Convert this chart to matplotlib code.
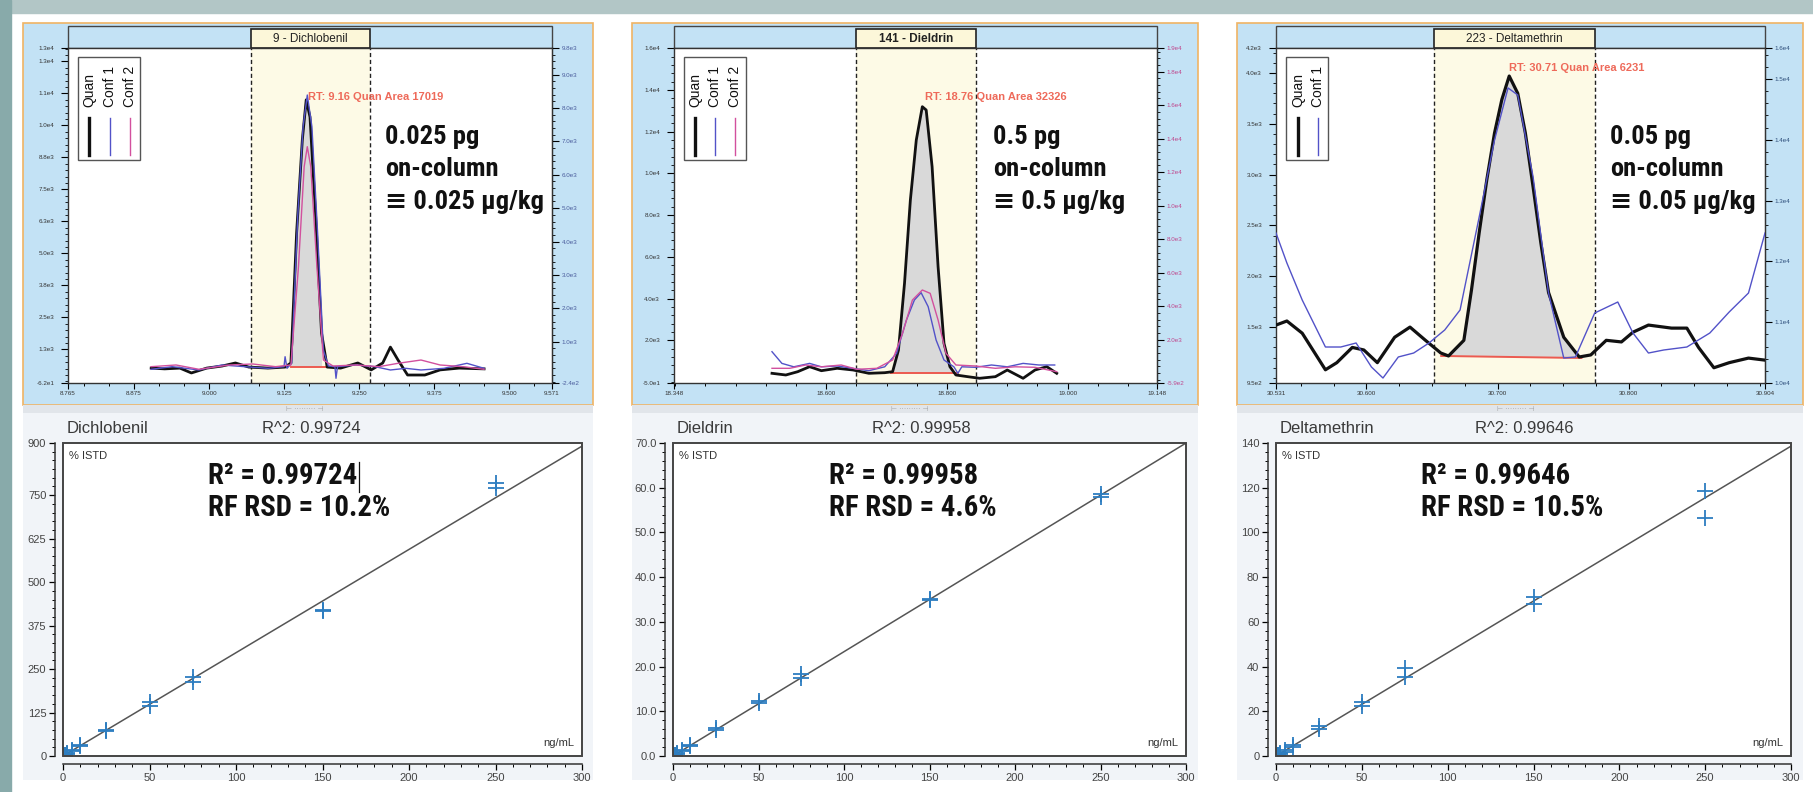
import matplotlib
matplotlib.use('Agg')
import numpy as np
import matplotlib.pyplot as plt
from matplotlib.patches import Rectangle
from matplotlib.lines import Line2D
from matplotlib.ticker import MultipleLocator
from matplotlib import font_manager
from matplotlib.font_manager import FontProperties

# ======================= DATA =======================
compounds = ['Dichlobenil', 'Dieldrin', 'Deltamethrin']
chrom_titles = ['9 - Dichlobenil', '141 - Dieldrin', '223 - Deltamethrin']
rt_labels = ['RT: 9.16 Quan Area 17019', 'RT: 18.76 Quan Area 32326', 'RT: 30.71 Quan Area 6231']
amount_text = [['0.025 pg', 'on-column', '\u2261 0.025 \u00b5g/kg'],
               ['0.5 pg', 'on-column', '\u2261 0.5 \u00b5g/kg'],
               ['0.05 pg', 'on-column', '\u2261 0.05 \u00b5g/kg']]
r2_header = ['R^2: 0.99724', 'R^2: 0.99958', 'R^2: 0.99646']
r2_big = ['R\u00b2 = 0.99724', 'R\u00b2 = 0.99958', 'R\u00b2 = 0.99646']
rsd_big = ['RF RSD = 10.2%', 'RF RSD = 4.6%', 'RF RSD = 10.5%']
legend_names = [['Quan', 'Conf 1', 'Conf 2'], ['Quan', 'Conf 1', 'Conf 2'], ['Quan', 'Conf 1']]

# chromatogram axes
rt_xlim = [(8.765, 9.571), (18.348, 19.148), (30.531, 30.904)]
rt_xticks = [[8.765, 8.875, 9.000, 9.125, 9.250, 9.375, 9.500, 9.571],
             [18.348, 18.600, 18.800, 19.000, 19.148],
             [30.531, 30.600, 30.700, 30.800, 30.904]]
window = [(9.070, 9.268), (18.649, 18.848), (30.6515, 30.7743)]

left_ylim = [(-62, 13024), (-50, 16017), (950, 4246)]
left_ticks = [[-62, 1250, 2500, 3750, 5000, 6250, 7500, 8750, 10000, 11250, 12500, 13024],
              [-50, 2000, 4000, 6000, 8000, 10000, 12000, 14000, 16017],
              [950, 1500, 2000, 2500, 3000, 3500, 4000, 4246]]
left_labels = [['-6.2e1', '1.3e3', '2.5e3', '3.8e3', '5.0e3', '6.3e3', '7.5e3', '8.8e3', '1.0e4', '1.1e4', '1.3e4', '1.3e4'],
               ['-5.0e1', '2.0e3', '4.0e3', '6.0e3', '8.0e3', '1.0e4', '1.2e4', '1.4e4', '1.6e4'],
               ['9.5e2', '1.5e3', '2.0e3', '2.5e3', '3.0e3', '3.5e3', '4.0e3', '4.2e3']]
right_ylim = [(-240, 9800), (-590, 19410), (10000, 15510)]
right_ticks = [[-240, 1000, 2000, 3000, 4000, 5000, 6000, 7000, 8000, 9000, 9800],
               [-590, 2000, 4000, 6000, 8000, 10000, 12000, 14000, 16000, 18000, 19410],
               [10000, 11000, 12000, 13000, 14000, 15000, 15510]]
right_labels = [['-2.4e2', '1.0e3', '2.0e3', '3.0e3', '4.0e3', '5.0e3', '6.0e3', '7.0e3', '8.0e3', '9.0e3', '9.8e3'],
                ['-5.9e2', '2.0e3', '4.0e3', '6.0e3', '8.0e3', '1.0e4', '1.2e4', '1.4e4', '1.6e4', '1.8e4', '1.9e4'],
                ['1.0e4', '1.1e4', '1.2e4', '1.3e4', '1.4e4', '1.5e4', '1.6e4']]

# --- Dichlobenil traces
p1_quan_x = [8.9035, 8.9259, 8.9513, 8.9705, 8.9960, 9.0214, 9.0438, 9.0661, 9.0979, 9.1265, 9.1362, 9.1457,
             9.1552, 9.1617, 9.1680, 9.1775, 9.1872, 9.1966, 9.2190, 9.2476, 9.2699, 9.2891, 9.3019, 9.3145,
             9.3305, 9.3592, 9.3846, 9.4164, 9.4579]
p1_quan_y = [520, 490, 520, 330, 520, 600, 720, 560, 520, 560, 720, 5800, 9430, 11000, 10330, 6420, 1890, 560,
             520, 720, 450, 720, 1340, 840, 250, 250, 450, 520, 490]
p1_conf1_x = [8.9035, 8.9385, 8.9830, 9.0214, 9.0596, 9.0979, 9.1247, 9.1265, 9.1297, 9.1374, 9.1475, 9.1565,
              9.1635, 9.1712, 9.1807, 9.1903, 9.1986, 9.2095, 9.2113, 9.2138, 9.2444, 9.2763, 9.3019, 9.3274,
              9.3528, 9.3910, 9.4293, 9.4579]
p1_conf1_y = [171, 249, 150, 300, 249, 200, 249, 548, 200, 350, 4744, 7441, 8391, 7441, 4246, 749, 270, 249,
              -99, 249, 300, 249, 150, 200, 150, 200, 350, 200]
p1_conf2_x = [8.9035, 8.9449, 8.9830, 9.0341, 9.0724, 9.1106, 9.1362, 9.1488, 9.1583, 9.1635, 9.1693, 9.1795,
              9.1903, 9.2063, 9.2444, 9.2827, 9.3145, 9.3528, 9.3846, 9.4229, 9.4579]
p1_conf2_y = [249, 300, 171, 300, 330, 249, 300, 3246, 6243, 6842, 6243, 3246, 449, 270, 300, 249, 350, 449,
              300, 249, 171]
p1_base_x = [9.136, 9.194]
p1_base_y = [575, 575]

# --- Dieldrin traces
p2_quan_x = [18.5103, 18.5332, 18.5529, 18.5726, 18.5921, 18.6183, 18.6447, 18.6708, 18.6970, 18.7101, 18.7198,
             18.7298, 18.7395, 18.7493, 18.7593, 18.7657, 18.7755, 18.7854, 18.7952, 18.8050, 18.8149, 18.8345,
             18.8542, 18.8803, 18.9000, 18.9262, 18.9459, 18.9655, 18.9819]
p2_quan_y = [415, 334, 492, 732, 540, 655, 573, 415, 444, 492, 1533, 4732, 8727, 11604, 13202, 13043, 10324,
             5532, 1853, 732, 334, 253, 176, 253, 573, 176, 573, 732, 415]
p2_conf1_x = [18.5103, 18.5267, 18.5464, 18.5726, 18.5921, 18.6183, 18.6447, 18.6708, 18.6970, 18.7167, 18.7330,
              18.7462, 18.7573, 18.7690, 18.7821, 18.7952, 18.8116, 18.8182, 18.8247, 18.8475, 18.8739, 18.9000,
              18.9262, 18.9524, 18.9786]
p2_conf1_y = [1279, 581, 377, 581, 377, 425, 282, 144, 377, 1183, 3171, 4365, 4801, 3965, 1977, 783, 377, -10,
              377, 347, 485, 377, 581, 485, 485]
p2_conf2_x = [18.5103, 18.5398, 18.5660, 18.5921, 18.6249, 18.6511, 18.6839, 18.7101, 18.7265, 18.7429, 18.7593,
              18.7723, 18.7854, 18.7985, 18.8149, 18.8475, 18.8803, 18.9131, 18.9459, 18.9819]
p2_conf2_y = [287, 287, 485, 377, 485, 228, 287, 783, 2376, 4365, 4962, 4763, 3171, 1183, 485, 425, 287, 377,
              347, 86]
p2_base_x = [18.707, 18.818]
p2_base_y = [415, 415]

# --- Deltamethrin traces
p3_quan_x = [30.531, 30.5393, 30.5510, 30.5687, 30.5774, 30.5892, 30.5980, 30.6083, 30.6215, 30.6332, 30.6450,
             30.6567, 30.6626, 30.6743, 30.6801, 30.6860, 30.6918, 30.6977, 30.7033, 30.7089, 30.7154, 30.7212,
             30.7271, 30.7330, 30.7389, 30.7505, 30.7623, 30.7711, 30.7829, 30.7945, 30.8033, 30.8151, 30.8327,
             30.8444, 30.8533, 30.8650, 30.8767, 30.8914, 30.9040]
p3_quan_y = [1520, 1560, 1440, 1080, 1150, 1300, 1275, 1150, 1400, 1500, 1370, 1245, 1216, 1370, 1865, 2430,
             2950, 3410, 3740, 3970, 3800, 3410, 2880, 2330, 1840, 1400, 1206, 1226, 1370, 1354, 1450, 1520,
             1490, 1490, 1300, 1100, 1150, 1195, 1175]
p3_conf1_x = [30.531, 30.5393, 30.5510, 30.5687, 30.5804, 30.5921, 30.6038, 30.6126, 30.6243, 30.6360, 30.6477,
              30.6597, 30.6714, 30.6860, 30.6977, 30.7080, 30.7154, 30.7271, 30.7389, 30.7505, 30.7594, 30.7741,
              30.7917, 30.8033, 30.8151, 30.8268, 30.8444, 30.8619, 30.8767, 30.8914, 30.9040]
p3_conf1_y = [12467, 11974, 11365, 10592, 10592, 10658, 10263, 10082, 10428, 10493, 10658, 10872, 11201, 12731,
              13997, 14853, 14737, 13389, 11480, 10411, 10428, 11151, 11332, 10822, 10493, 10543, 10592, 10822,
              11168, 11480, 12467]
p3_base_x = [30.657, 30.764]
p3_base_y = [1216, 1196]

quan_x = [p1_quan_x, p2_quan_x, p3_quan_x]
quan_y = [p1_quan_y, p2_quan_y, p3_quan_y]
conf_x = [[p1_conf1_x, p1_conf2_x], [p2_conf1_x, p2_conf2_x], [p3_conf1_x]]
conf_y = [[p1_conf1_y, p1_conf2_y], [p2_conf1_y, p2_conf2_y], [p3_conf1_y]]
base_x = [p1_base_x, p2_base_x, p3_base_x]
base_y = [p1_base_y, p2_base_y, p3_base_y]

# calibration curves
cal_conc = [0.5, 1, 2.5, 5, 10, 25, 50, 75, 150, 250]
dich_rep1 = [1.5, 3, 8, 17, 33, 74, 155, 228, 418, 785]
dich_rep2 = [1.2, 3.5, 7, 15, 29, 72, 143, 214, 421, 772]
diel_rep1 = [0.12, 0.25, 0.6, 1.3, 2.5, 6.2, 12.3, 18.3, 35.1, 58.6]
diel_rep2 = [0.10, 0.22, 0.55, 1.2, 2.2, 5.9, 11.8, 17.5, 34.8, 58.0]
delt_rep1 = [0.2, 0.5, 1.2, 2.5, 5.0, 13.5, 24.0, 39.4, 71.0, 118.5]
delt_rep2 = [0.15, 0.4, 1.0, 2.0, 4.0, 12.0, 22.5, 35.3, 68.0, 106.4]
cal_reps = [[dich_rep1, dich_rep2], [diel_rep1, diel_rep2], [delt_rep1, delt_rep2]]
fit_slope = [2.97, 0.2333, 0.462]
fit_intercept = [0.0, 0.0, 0.0]
cal_xticks = [0, 50, 100, 150, 200, 250, 300]
cal_ylim = [900, 70.0, 140]
cal_yticks = [[0, 125, 250, 375, 500, 625, 750, 900],
              [0, 10, 20, 30, 40, 50, 60, 70],
              [0, 20, 40, 60, 80, 100, 120, 140]]
cal_ylabels = [['0', '125', '250', '375', '500', '625', '750', '900'],
               ['0.0', '10.0', '20.0', '30.0', '40.0', '50.0', '60.0', '70.0'],
               ['0', '20', '40', '60', '80', '100', '120', '140']]

# ======================= LAYOUT / STYLE =======================
W, H = 1813, 792
plt.rcParams['font.family'] = ['Liberation Sans', 'DejaVu Sans']

# pick a condensed face for the big annotations (Helvetica Condensed look)
_cands = []
for _f in font_manager.fontManager.ttflist:
    _nm = _f.name.lower()
    if 'narrow' in _nm or 'condensed' in _nm:
        _pref = 0 if ('roboto' in _nm or 'liberation' in _nm) else 1
        _cands.append((_pref, _f.name))
if _cands:
    _cands.sort()
    BIG_FAMILY = [_cands[0][1], 'DejaVu Sans']
else:
    BIG_FAMILY = ['Liberation Sans', 'DejaVu Sans']


def big_fp(size):
    return FontProperties(family=BIG_FAMILY, weight='bold', size=size)


outer_x = [(23, 593), (632, 1198), (1237, 1803)]
plot_x = [(68, 552), (674, 1157), (1276, 1765)]
titlebox_x = [(251, 370), (856, 976), (1434, 1595)]
legend_box_x = [(78, 140), (684, 746), (1286, 1328)]
legend_cols = [[89, 110, 130], [695, 715, 735], [1298, 1318]]
rt_pos = [(308, 97), (925, 97), (1509, 68)]
amount_x = [385, 993, 1610]
cal_axes_x = [(63, 582), (673, 1186), (1276, 1791)]
big_x = [208, 829, 1421]
scroll_x = [305, 910, 1516]
minor_x = [0.125 / 3, 0.05, 0.025]
left_minor = [250, 400, 100]
right_minor = [200, 400, 200]
cal_yminor = [25, 2, 4]
right_colors = ['#4a5c9c', '#c0468c', '#30507c']
trace_colors = ['#111111', '#5252c8', '#d2509e']

fig = plt.figure(figsize=(W / 100, H / 100), dpi=100, facecolor='white')
renderer = fig.canvas.get_renderer()


def box(x0, y0, x1, y1):
    return [x0 / W, 1 - y1 / H, (x1 - x0) / W, (y1 - y0) / H]


def frect(x0, y0, x1, y1, z=-5, **kw):
    l, b, w, h = box(x0, y0, x1, y1)
    fig.add_artist(Rectangle((l, b), w, h, transform=fig.transFigure, zorder=z, **kw))


def ftext(x, y, s, **kw):
    return fig.text(x / W, 1 - y / H, s, **kw)


def fline(xs, ys, **kw):
    fig.add_artist(Line2D([x / W for x in xs], [1 - y / H for y in ys], transform=fig.transFigure, **kw))


def fit_size(s, target_px, base=20):
    t = fig.text(0, 0, s, fontproperties=big_fp(base))
    wpx = t.get_window_extent(renderer).width
    t.remove()
    return min(base * target_px / wpx, 24)


SIZE_TOP = fit_size(amount_text[0][2], 158)
SIZE_BOT = fit_size(rsd_big[0], 182)

# page background strips
frect(0, 0, W, 13, color='#b2c6c6', z=-8)
frect(0, 0, 11, H, color='#88aaaa', z=-8)

cursor_text = None
for i in range(3):
    ox0, ox1 = outer_x[i]
    px0, px1 = plot_x[i]
    frect(ox0, 23, ox1, 405, fc='#c3e2f5', ec='#f0b464', lw=1.2)
    frect(ox0, 405, ox1, 413, fc='#e1e5ea', ec='none')
    frect(ox0, 413, ox1, 780, fc='#f1f4f8', ec='none')
    frect(px0, 26, px1, 48, fc='#c3e2f5', ec='#444444', lw=1.0, z=-4)
    tb0, tb1 = titlebox_x[i]
    frect(tb0, 29, tb1, 48, fc='#fcf7d9', ec='#222222', lw=1.2, z=-3)
    ftext((tb0 + tb1) / 2, 38.5, chrom_titles[i], ha='center', va='center', fontsize=8.5, color='#222222',
          fontweight='bold' if i == 1 else 'normal')

    # ---------- chromatogram ----------
    ax = fig.add_axes(box(px0, 48, px1, 383))
    ax.set_facecolor('white')
    ax.set_xlim(*rt_xlim[i])
    ax.set_ylim(*left_ylim[i])
    w0, w1 = window[i]
    ax.axvspan(w0, w1, color='#fdfae6', zorder=0, lw=0)
    for wv in (w0, w1):
        ax.axvline(wv, ls=(0, (3, 2)), color='#222222', lw=1.0, zorder=1)
    qx = np.array(quan_x[i])
    qy = np.array(quan_y[i])
    bx, by = base_x[i], base_y[i]
    m = (qx >= bx[0]) & (qx <= bx[1])
    ax.fill_between(qx[m], np.interp(qx[m], bx, by), qy[m], color='#d9d9d9', lw=0, zorder=1.5)
    ax.plot(bx, by, color='#ec5a50', lw=1.4, zorder=2)
    ax.plot(qx, qy, color=trace_colors[0], lw=2.0 if i < 2 else 2.3, zorder=3)

    ax2 = ax.twinx()
    ax2.set_ylim(*right_ylim[i])
    for k in range(len(conf_x[i])):
        ax2.plot(conf_x[i][k], conf_y[i][k], color=trace_colors[k + 1], lw=1.0, zorder=3)

    for sp in ax.spines.values():
        sp.set_color('#333333')
        sp.set_linewidth(1.0)
    for name, sp in ax2.spines.items():
        sp.set_visible(name == 'right')
        sp.set_color('#333333')

    ax.set_xticks(rt_xticks[i])
    ax.set_xticklabels(['%.3f' % v for v in rt_xticks[i]])
    ax.xaxis.set_minor_locator(MultipleLocator(minor_x[i]))
    ax.tick_params(axis='x', which='major', length=4, width=0.8, pad=2, labelsize=4.5, labelcolor='#333333')
    ax.tick_params(axis='x', which='minor', length=2.5, width=0.7)
    ax.set_yticks(left_ticks[i])
    ax.set_yticklabels(left_labels[i])
    ax.yaxis.set_minor_locator(MultipleLocator(left_minor[i]))
    ax.tick_params(axis='y', which='major', length=5, width=0.8, pad=5, labelsize=4.5, labelcolor='#333333')
    ax.tick_params(axis='y', which='minor', length=2.5, width=0.6)
    ax2.set_yticks(right_ticks[i])
    ax2.set_yticklabels(right_labels[i])
    ax2.yaxis.set_minor_locator(MultipleLocator(right_minor[i]))
    ax2.tick_params(axis='y', which='major', length=5, width=0.8, pad=2, labelsize=4.5,
                    labelcolor=right_colors[i])
    ax2.tick_params(axis='y', which='minor', length=2.5, width=0.6)

    # legend box
    lx0, lx1 = legend_box_x[i]
    frect(lx0, 57, lx1, 160, fc='white', ec='#555555', lw=1.0, z=5)
    for k, nm in enumerate(legend_names[i]):
        cx = legend_cols[i][k]
        ftext(cx, 107, nm, rotation=90, ha='center', va='bottom', fontsize=10, color='#111111', zorder=6)
        fline([cx, cx], [118, 155], color=trace_colors[k], lw=2.4 if k == 0 else 1.0, zorder=6)

    ftext(rt_pos[i][0], rt_pos[i][1], rt_labels[i], color='#ee6a5a', fontsize=8, fontweight='bold',
          va='center', zorder=6)
    for j, line in enumerate(amount_text[i]):
        ftext(amount_x[i], [137, 169, 202][j], line, fontproperties=big_fp(SIZE_TOP),
              va='center', color='#111111', zorder=6)
    ftext(scroll_x[i], 410, '\u22a2 \u00b7\u00b7\u00b7\u00b7\u00b7\u00b7\u00b7\u00b7\u00b7 \u22a3',
          fontsize=5, color='#9a9a9a', ha='center', va='center')

    # ---------- calibration ----------
    cx0, cx1 = cal_axes_x[i]
    ftext(cx0 + 4, 428, compounds[i], fontsize=12, color='#3a3a3a', va='center')
    ftext(cx0 + 199, 428, r2_header[i], fontsize=12, color='#3a3a3a', va='center')
    axb = fig.add_axes(box(cx0, 443, cx1, 756))
    axb.set_facecolor('white')
    axb.set_xlim(0, 300)
    axb.set_ylim(0, cal_ylim[i])
    axb.plot([0, 300], [fit_intercept[i], fit_intercept[i] + fit_slope[i] * 300], color='#555555', lw=1.1,
             zorder=2)
    for rep in cal_reps[i]:
        axb.plot(cal_conc, rep, ls='none', marker='+', ms=11, mew=1.3, color='#2d7dc0', zorder=3)
    for name in ('top', 'right'):
        axb.spines[name].set_visible(False)
    for name in ('left', 'bottom'):
        axb.spines[name].set_position(('outward', 6))
        axb.spines[name].set_color('#333333')
        axb.spines[name].set_linewidth(1.1)
    axb.add_patch(Rectangle((0, 0), 1, 1, transform=axb.transAxes, fill=False, ec='#444444', lw=1.4,
                            clip_on=False, zorder=4))
    axb.set_xticks(cal_xticks)
    axb.xaxis.set_minor_locator(MultipleLocator(10))
    axb.set_yticks(cal_yticks[i])
    axb.set_yticklabels(cal_ylabels[i])
    axb.yaxis.set_minor_locator(MultipleLocator(cal_yminor[i]))
    axb.tick_params(which='major', length=4, width=0.9, pad=2, labelsize=8, labelcolor='#444444')
    axb.tick_params(which='minor', length=2.5, width=0.7)
    axb.text(0.012, 0.975, '% ISTD', transform=axb.transAxes, va='top', ha='left', fontsize=8, color='#333333')
    axb.text(0.985, 0.025, 'ng/mL', transform=axb.transAxes, va='bottom', ha='right', fontsize=8,
             color='#333333')
    t_r2 = ftext(big_x[i], 476, r2_big[i], fontproperties=big_fp(SIZE_BOT),
                 va='center', color='#111111', zorder=6)
    ftext(big_x[i], 508, rsd_big[i], fontproperties=big_fp(SIZE_BOT),
          va='center', color='#111111', zorder=6)
    if i == 0:
        cursor_text = t_r2

# text cursor right after the first R² value
bb = cursor_text.get_window_extent(renderer)
xc = bb.x1 + 2
fline([xc, xc], [462, 492], color='#111111', lw=0.9, zorder=6)

fig.savefig('out.png', dpi=100, facecolor=fig.get_facecolor())
